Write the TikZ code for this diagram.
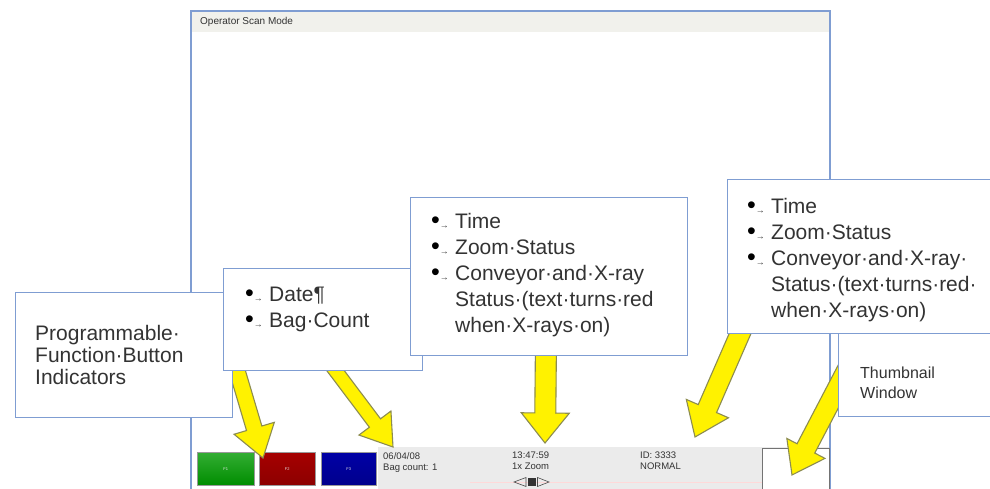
\documentclass[tikz,border=0pt]{standalone}
\usepackage{fontspec}
\setmainfont{Liberation Sans}
\usetikzlibrary{calc}
\definecolor{bordblue}{HTML}{7F9DD2}
\definecolor{txtgray}{HTML}{333333}
\definecolor{arrowedge}{HTML}{8C8C50}
\definecolor{bargray}{HTML}{EBEBEB}
\definecolor{titlebar}{HTML}{F1F1EC}
\tikzset{
  callout/.style={draw=bordblue, line width=1.3pt, fill=white, inner sep=0pt, anchor=north west},
  ctext/.style={anchor=north west, inner sep=0pt, align=left, text=txtgray, font=\fontsize{21}{26}\selectfont},
  stxt/.style={anchor=base west, inner sep=0pt, text=txtgray, font=\fontsize{9.5}{11}\selectfont},
  blockarrow/.style={fill=yellow, draw=arrowedge, line width=1.1pt, line join=miter},
  fbutton/.style={draw=black!40, line width=0.5pt, anchor=north west, inner sep=0pt, text=white!80!gray, font=\fontsize{4}{4}\selectfont},
}
\newcommand\bul{\makebox[24pt][l]{{\color{black}\fontsize{25}{25}\selectfont •}{\fontsize{9}{9}\selectfont→}}}
\newcommand\hang{\hspace*{24pt}}
% tail, tip, half shaft, half head, head length
\newcommand\yarrow[5]{%
  \coordinate (ybc) at ($(#2)!#5!(#1)$);
  \filldraw[blockarrow] ($(#1)!#3!90:(#2)$) -- ($(ybc)!#3!90:(#2)$) -- ($(ybc)!#4!90:(#2)$)
    -- (#2) -- ($(ybc)!#4!-90:(#2)$) -- ($(ybc)!#3!-90:(#2)$) -- ($(#1)!#3!-90:(#2)$) -- cycle;
}
\begin{document}
\begin{tikzpicture}[x=1pt,y=-1pt]
\clip (0,0) rectangle (990,489);
\fill[white] (0,0) rectangle (990,489);

% main window
\fill[titlebar] (192,12) rectangle (829,32);
\draw[bordblue, line width=1.5pt] (191,11) rectangle (830,520);
\node[anchor=base west, inner sep=0pt, text=txtgray, font=\fontsize{10}{10}\selectfont] (title) at (200,25) {Operator Scan Mode};

% status bar
\fill[bargray] (378,447) rectangle (829,489);
\draw[red!15, line width=0.8pt] (470,482.5) -- (762,482.5);
\node[fbutton, minimum width=57pt, minimum height=33pt, top color=green!60!black!80!white, bottom color=green!55!black] (b1) at (197,452) {F1};
\node[fbutton, minimum width=56pt, minimum height=33pt, top color=red!65!black, bottom color=red!55!black] (b2) at (259,452) {F2};
\node[fbutton, minimum width=55pt, minimum height=33pt, top color=blue!65!black, bottom color=blue!55!black] (b3) at (321,452) {F3};

\node[stxt] (date) at (383,459) {06/04/08};
\node[stxt] (bag) at (383,470) {Bag count: 1};
\node[stxt] (time) at (512,458) {13:47:59};
\node[stxt] (zoom) at (512,469) {1x Zoom};
\node[stxt] (id) at (640,458) {ID: 3333};
\node[stxt] (norm) at (640,469) {NORMAL};
\draw[black!70, line width=0.6pt] (514,482) -- (526,477.5) -- (526,486.5) -- cycle;
\fill[black!80] (527.5,478) rectangle (536,486);
\draw[black!70, line width=0.6pt] (549,482) -- (537.5,477.5) -- (537.5,486.5) -- cycle;
\node[draw=black!55, line width=0.8pt, fill=white, anchor=north west, inner sep=0pt, minimum width=67pt, minimum height=45pt] (thumb) at (762,448) {};

% arrows
\coordinate (a1s) at (228,340); \coordinate (a1e) at (263,458);
\coordinate (a2s) at (320,350); \coordinate (a2e) at (393,447);
\coordinate (a3s) at (546,340); \coordinate (a3e) at (545,443);
\coordinate (a4s) at (746,320); \coordinate (a4e) at (695,437);
\coordinate (a5s) at (860,345); \coordinate (a5e) at (792,475);
\yarrow{a1s}{a1e}{8pt}{21pt}{31pt}
\yarrow{a2s}{a2e}{7pt}{20pt}{30pt}
\yarrow{a3s}{a3e}{10.5pt}{24pt}{30pt}
\yarrow{a4s}{a4e}{10pt}{23pt}{31pt}
\yarrow{a5s}{a5e}{10pt}{21.5pt}{30pt}

% callouts
\node[callout, minimum width=170pt, minimum height=98pt] (c5) at (838,318) {};
\node[ctext, font=\fontsize{16}{20}\selectfont] (c5t) at (860,367) {Thumbnail\\Window};

\node[callout, minimum width=217pt, minimum height=125pt] (c1) at (15,292) {};
\node[ctext, font=\fontsize{21}{22}\selectfont] (c1t) at (35,325.5) {Programmable·\\Function·Button\\Indicators};

\node[callout, minimum width=199pt, minimum height=102pt] (c2) at (223,268) {};
\node[ctext] (c2t) at (245,287) {\bul Date¶\\\bul Bag·Count};

\node[callout, minimum width=277pt, minimum height=158pt] (c3) at (410,197) {};
\node[ctext] (c3t) at (431,213.5) {\bul Time\\\bul Zoom·Status\\\bul Conveyor·and·X-ray\\\hang Status·(text·turns·red\\\hang when·X-rays·on)};

\node[callout, minimum width=280pt, minimum height=154pt] (c4) at (727,179) {};
\node[ctext] (c4t) at (747,198) {\bul Time\\\bul Zoom·Status\\\bul Conveyor·and·X-ray·\\\hang Status·(text·turns·red·\\\hang when·X-rays·on)};
\end{tikzpicture}
\end{document}
